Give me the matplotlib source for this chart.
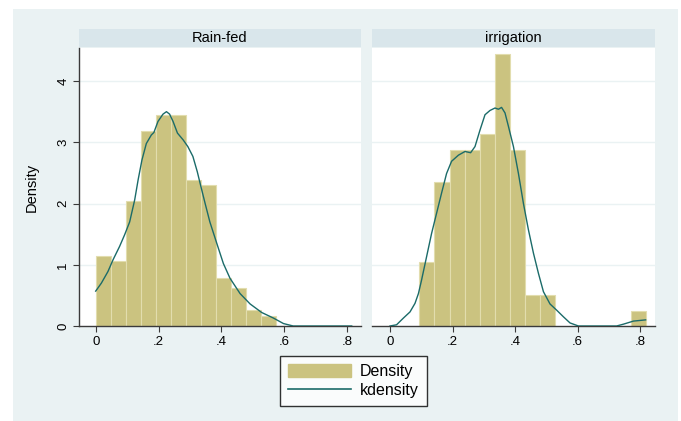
import numpy as np
import matplotlib
matplotlib.use("Agg")
import matplotlib.pyplot as plt
from matplotlib.patches import Rectangle, Patch
from matplotlib.lines import Line2D

plt.rcParams["font.family"] = ["Liberation Sans", "DejaVu Sans"]

# --- data ---
panels = ["Rain-fed", "irrigation"]

rain_bin_start = 0.0
rain_bin_width = 0.0479
rain_heights = [1.15, 1.06, 2.04, 3.19, 3.45, 3.45, 2.39, 2.30, 0.79, 0.62, 0.26, 0.17]

irr_bin_start = 0.094
irr_bin_width = 0.0483
irr_heights = [1.04, 2.35, 2.87, 2.87, 3.13, 4.45, 2.87, 0.51, 0.51, 0, 0, 0, 0, 0, 0.25]

rain_kde_x = [0.0, 0.018, 0.039, 0.055, 0.076, 0.092, 0.108, 0.124, 0.135, 0.147,
              0.161, 0.177, 0.185, 0.198, 0.214, 0.225, 0.235, 0.246, 0.260, 0.278,
              0.293, 0.309, 0.323, 0.332, 0.348, 0.363, 0.385, 0.406, 0.427, 0.459,
              0.491, 0.528, 0.565, 0.597, 0.628, 0.70, 0.814]
rain_kde_y = [0.57, 0.70, 0.89, 1.08, 1.30, 1.49, 1.70, 2.06, 2.39, 2.71,
              2.98, 3.12, 3.16, 3.34, 3.46, 3.50, 3.46, 3.34, 3.15, 3.04,
              2.93, 2.77, 2.52, 2.33, 2.00, 1.70, 1.35, 1.02, 0.78, 0.53,
              0.36, 0.22, 0.13, 0.04, 0.0, 0.0, 0.0]

irr_kde_x = [0.0, 0.021, 0.043, 0.064, 0.080, 0.091, 0.101, 0.117, 0.133, 0.149,
             0.165, 0.181, 0.197, 0.219, 0.240, 0.258, 0.272, 0.288, 0.304, 0.320,
             0.336, 0.347, 0.357, 0.368, 0.379, 0.395, 0.411, 0.427, 0.443, 0.459,
             0.475, 0.491, 0.512, 0.533, 0.555, 0.576, 0.603, 0.725, 0.747, 0.779,
             0.818]
irr_kde_y = [0.0, 0.02, 0.13, 0.23, 0.37, 0.53, 0.75, 1.13, 1.51, 1.84,
             2.17, 2.49, 2.69, 2.79, 2.85, 2.83, 2.93, 3.20, 3.45, 3.52,
             3.56, 3.54, 3.57, 3.48, 3.26, 2.93, 2.49, 2.00, 1.57, 1.19,
             0.86, 0.56, 0.36, 0.26, 0.15, 0.05, 0.0, 0.0, 0.03, 0.08,
             0.10]

x_ticks = [0, 0.2, 0.4, 0.6, 0.8]
x_tick_labels = ["0", ".2", ".4", ".6", ".8"]
y_ticks = [0, 1, 2, 3, 4]

# --- style ---
BG = "#EAF2F3"
STRIP = "#D9E6EB"
BAR = "#CBC380"
BAR_EDGE = "#E2DDAE"
LINE = "#1B6B69"
AXIS = "#3A3A3A"

W, H = 681, 421
fig = plt.figure(figsize=(W / 100, H / 100), dpi=100)
fig.patch.set_facecolor("white")
fig.patches.append(Rectangle((13 / W, 0), (678 - 13) / W, (421 - 9) / H,
                             transform=fig.transFigure, facecolor=BG,
                             edgecolor="none", zorder=-5))

plot_top, plot_bot = 48, 326
axes_px = [(79, 361), (372, 655)]
xlims = [(-0.0531, 0.8436), (-0.0576, 0.848)]

data = [
    (rain_bin_start, rain_bin_width, rain_heights, rain_kde_x, rain_kde_y),
    (irr_bin_start, irr_bin_width, irr_heights, irr_kde_x, irr_kde_y),
]

for i, (left_px, right_px) in enumerate(axes_px):
    ax = fig.add_axes([left_px / W, 1 - plot_bot / H,
                       (right_px - left_px) / W, (plot_bot - plot_top) / H])
    ax.set_facecolor("white")
    start, width, heights, kx, ky = data[i]
    heights = np.array(heights)
    lefts = start + width * np.arange(len(heights))
    keep = heights > 0
    ax.bar(lefts[keep], heights[keep], width=width, align="edge",
           color=BAR, edgecolor=BAR_EDGE, linewidth=0.8, zorder=2)
    ax.plot(kx, ky, color=LINE, linewidth=1.0, zorder=3)

    ax.set_xlim(*xlims[i])
    ax.set_ylim(0, 4.54)
    ax.set_xticks(x_ticks)
    ax.set_xticklabels(x_tick_labels)
    ax.set_yticks(y_ticks)
    for yv in y_ticks[1:]:
        ax.axhline(yv, color=BG, linewidth=1.0, zorder=1)

    for s in ["top", "right"]:
        ax.spines[s].set_visible(False)
    ax.spines["bottom"].set_color(AXIS)
    ax.spines["bottom"].set_linewidth(1.0)
    ax.tick_params(axis="x", direction="out", length=4, width=0.8,
                   color=AXIS, labelsize=9.5, pad=3)
    if i == 0:
        ax.spines["left"].set_color(AXIS)
        ax.spines["left"].set_linewidth(1.0)
        ax.tick_params(axis="y", direction="out", length=4, width=0.8,
                       color=AXIS, labelsize=9.5, pad=3)
        for lab in ax.get_yticklabels():
            lab.set_rotation(90)
            lab.set_va("center")
    else:
        ax.spines["left"].set_visible(False)
        ax.tick_params(axis="y", left=False, labelleft=False)

    # panel strip
    fig.patches.append(Rectangle((left_px / W, 1 - 47 / H),
                                 (right_px - left_px) / W, 18 / H,
                                 transform=fig.transFigure, facecolor=STRIP,
                                 edgecolor="none", zorder=1))
    fig.text((left_px + right_px) / 2 / W, 1 - 38 / H, panels[i],
             ha="center", va="center", fontsize=10.5)

fig.text(32 / W, 1 - 187 / H, "Density", rotation=90,
         ha="center", va="center", fontsize=10.5)

leg = fig.legend(
    handles=[Patch(facecolor=BAR, edgecolor=BAR),
             Line2D([], [], color=LINE, linewidth=1.2)],
    labels=["Density", "kdensity"],
    loc="center", bbox_to_anchor=((278 + 429) / 2 / W, 1 - (357 + 405) / 2 / H),
    frameon=True, fancybox=False, edgecolor="black", fontsize=11.5,
    handlelength=3.95, handleheight=0.95, labelspacing=0.25,
    borderpad=0.48, handletextpad=0.56, borderaxespad=0,
)
leg.get_frame().set_linewidth(1.0)
leg.get_frame().set_facecolor("white")

fig.savefig("out.png", dpi=100, facecolor=fig.get_facecolor())
